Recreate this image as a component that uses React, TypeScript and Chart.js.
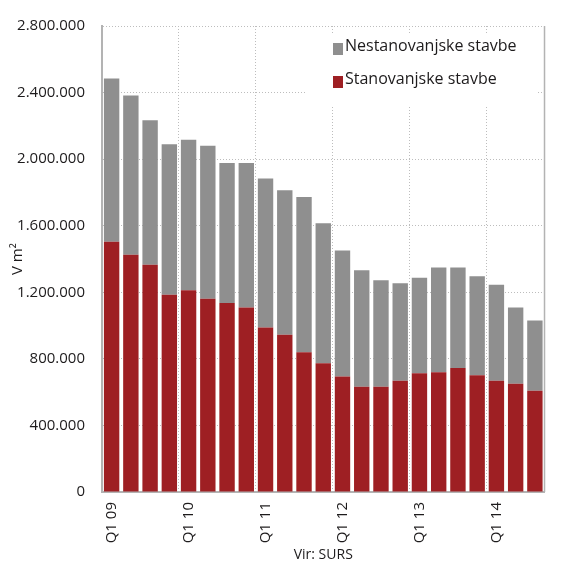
import React, { useEffect, useRef } from "react";
import { Chart, registerables } from "chart.js";

Chart.register(...registerables);

const categories = [
  "Q1 09", "Q2 09", "Q3 09", "Q4 09",
  "Q1 10", "Q2 10", "Q3 10", "Q4 10",
  "Q1 11", "Q2 11", "Q3 11", "Q4 11",
  "Q1 12", "Q2 12", "Q3 12", "Q4 12",
  "Q1 13", "Q2 13", "Q3 13", "Q4 13",
  "Q1 14", "Q2 14", "Q3 14",
];

// Stanovanjske stavbe (residential), m²
const residential = [
  1503000, 1426000, 1366000, 1185000,
  1212000, 1161000, 1135000, 1109000,
  989000, 945000, 840000, 773000,
  694000, 633000, 633000, 668000,
  714000, 720000, 745000, 702000,
  668000, 651000, 609000,
];

// Totals (stack top), m²
const totals = [
  2485000, 2383000, 2234000, 2090000,
  2116000, 2080000, 1977000, 1977000,
  1884000, 1813000, 1772000, 1615000,
  1451000, 1333000, 1273000, 1254000,
  1287000, 1349000, 1349000, 1297000,
  1246000, 1109000, 1030000,
];

// Nestanovanjske stavbe (non-residential) = total - residential
const nonResidential = totals.map((t, i) => t - residential[i]);

const seriesNames = ["Stanovanjske stavbe", "Nestanovanjske stavbe"];
const yTickValues = [0, 400000, 800000, 1200000, 1600000, 2000000, 2400000, 2800000];

const RED = "#9e1f23";
const GRAY = "#8f8f8f";
const FONT = "'Open Sans', sans-serif";
const TEXT = "#1d1b1c";
const GRID = "#bdbdbd";
const AXIS = "#b3b3b3";

const fmt = (v: number) =>
  String(Math.round(v)).replace(/\B(?=(\d{3})+(?!\d))/g, ".");

const legendPlugin = {
  id: "customLegend",
  beforeDatasetsDraw(chart: any) {
    const ctx = chart.ctx;
    const area = chart.chartArea;
    ctx.save();
    ctx.fillStyle = "#ffffff";
    ctx.fillRect(307, area.top + 8, 229, 72);
    ctx.restore();
  },
  afterDraw(chart: any) {
    const ctx = chart.ctx;
    const area = chart.chartArea;
    ctx.save();
    // right border
    ctx.strokeStyle = AXIS;
    ctx.lineWidth = 1.5;
    ctx.beginPath();
    ctx.moveTo(area.right, area.top);
    ctx.lineTo(area.right, area.bottom);
    ctx.stroke();
    // legend entries
    const entries = [
      { label: seriesNames[1], color: GRAY, y: 49 },
      { label: seriesNames[0], color: RED, y: 82 },
    ];
    ctx.font = `16px ${FONT}`;
    ctx.textBaseline = "middle";
    ctx.textAlign = "left";
    for (const e of entries) {
      ctx.fillStyle = e.color;
      ctx.fillRect(333, e.y - 6, 10, 12);
      ctx.fillStyle = TEXT;
      ctx.fillText(e.label, 345, e.y - 3);
    }
    ctx.restore();
  },
};

export default function App() {
  const canvasRef = useRef<HTMLCanvasElement | null>(null);

  useEffect(() => {
    document.body.style.margin = "0";
    const canvas = canvasRef.current;
    if (!canvas) return;
    const chart = new Chart(canvas, {
      type: "bar",
      data: {
        labels: categories,
        datasets: [
          {
            label: seriesNames[0],
            data: residential,
            backgroundColor: RED,
            borderWidth: 0,
          },
          {
            label: seriesNames[1],
            data: nonResidential,
            backgroundColor: GRAY,
            borderWidth: 0,
          },
        ],
      },
      options: {
        animation: false,
        responsive: false,
        maintainAspectRatio: false,
        layout: { padding: { top: 20, right: 5, left: 0, bottom: 0 } },
        datasets: {
          bar: { barPercentage: 0.8, categoryPercentage: 1.0 },
        },
        plugins: {
          legend: { display: false },
          tooltip: { enabled: false },
        },
        scales: {
          x: {
            stacked: true,
            afterFit: (s: any) => {
              s.height = 74;
            },
            grid: {
              offset: true,
              drawTicks: false,
              color: (c: any) =>
                c.index !== undefined && c.index > 0 && c.index % 4 === 0
                  ? GRID
                  : "transparent",
              lineWidth: 1,
            },
            border: { display: true, color: AXIS, width: 2, dash: [1, 2] },
            ticks: {
              autoSkip: false,
              maxRotation: 90,
              minRotation: 90,
              padding: 10,
              color: TEXT,
              font: { family: FONT, size: 15 },
              callback: (_v: any, i: number) =>
                categories[i].startsWith("Q1") ? categories[i] : "",
            },
            title: {
              display: true,
              text: "Vir: SURS",
              color: TEXT,
              font: { family: FONT, size: 14 },
              padding: { top: 4, bottom: 3 },
            },
          },
          y: {
            stacked: true,
            min: 0,
            max: 2800000,
            afterFit: (s: any) => {
              s.width = 102;
            },
            afterBuildTicks: (s: any) => {
              s.ticks = yTickValues.map((v) => ({ value: v }));
            },
            grid: {
              drawTicks: false,
              color: GRID,
              lineWidth: 1,
            },
            border: { display: true, color: AXIS, width: 2, dash: [1, 2] },
            ticks: {
              padding: 17,
              color: TEXT,
              font: { family: FONT, size: 15 },
              callback: (v: any) => fmt(Number(v)),
            },
            title: {
              display: true,
              text: "V m²",
              color: TEXT,
              font: { family: FONT, size: 15 },
              padding: { top: 9, bottom: 4 },
            },
          },
        },
      },
      plugins: [legendPlugin],
    });
    return () => chart.destroy();
  }, []);

  return (
    <div style={{ width: 563, height: 566 }}>
      <canvas ref={canvasRef} width={563} height={566} style={{ display: "block" }} />
    </div>
  );
}
